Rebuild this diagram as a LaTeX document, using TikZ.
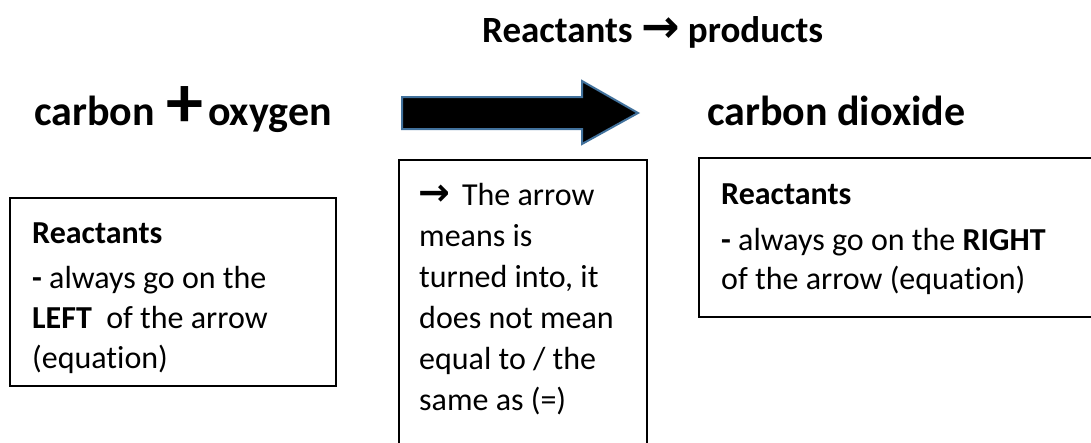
\documentclass[tikz,border=0pt]{standalone}
\usepackage{fontspec}
\setmainfont{Carlito}[Ligatures=NoCommon]
\newfontfamily\arw{DejaVu Sans}
\tikzset{
  txt/.style={inner sep=0pt, anchor=base west, font=\fontsize{32}{41}\selectfont},
  ttl/.style={inner sep=0pt, anchor=base west, font=\fontsize{42}{48}\selectfont\bfseries},
  hdr/.style={inner sep=0pt, anchor=base west, font=\fontsize{37}{44}\selectfont\bfseries},
  infobox/.style={draw=black, line width=1.5pt},
  bigarrow/.style={fill=black, draw=arrowblue, line width=2pt, line join=miter}
}
\definecolor{arrowblue}{HTML}{41719C}
\begin{document}
\begin{tikzpicture}[x=1pt,y=-1pt]
\useasboundingbox (0,0) rectangle (1091,442);
% header
\node[hdr] (head) at (482,42) {Reactants {\arw\fontsize{46}{44}\selectfont\bfseries →} products};
% titles
\node[ttl] (carbon) at (34,125) {carbon};
\node[inner sep=0pt, font=\fontsize{74}{80}\selectfont\bfseries] (plus) at (185,107) {+};
\node[ttl] (oxygen) at (208,125) {oxygen};
\node[ttl] (co2) at (707,125) {carbon dioxide};
% big arrow
\coordinate (aL1) at (402,97);
\coordinate (aB1) at (582,97);
\coordinate (aH1) at (582,81);
\coordinate (aT) at (638,113);
\coordinate (aH2) at (582,144);
\coordinate (aB2) at (582,129);
\coordinate (aL2) at (402,129);
\draw[bigarrow] (aL1) -- (aB1) -- (aH1) -- (aT) -- (aH2) -- (aB2) -- (aL2) -- cycle;
% boxes
\coordinate (lb1) at (10,198); \coordinate (lb2) at (336,386);
\coordinate (mb1) at (399,160); \coordinate (mb2) at (647,460);
\coordinate (rb1) at (699,158); \coordinate (rb2) at (1110,317);
\draw[infobox] (lb1) rectangle (lb2);
\draw[infobox] (mb1) rectangle (mb2);
\draw[infobox] (rb1) rectangle (rb2);
% left box text
\node[txt] (l1) at (32,243) {\textbf{Reactants}};
\node[txt] (l2) at (32,288) {\textbf{-} always go on the};
\node[txt] (l3) at (32,328) {\textbf{LEFT}\ \ of the arrow};
\node[txt] (l4) at (32,368) {(equation)};
% middle box text
\node[txt] (m1) at (418,205) {{\arw\fontsize{38}{41}\selectfont\bfseries →}\hspace{12pt}The arrow};
\node[txt] (m2) at (419,246) {means is};
\node[txt] (m3) at (419,287) {turned into, it};
\node[txt] (m4) at (419,328) {does not mean};
\node[txt] (m5) at (419,369) {equal to / the};
\node[txt] (m6) at (419,410) {same as (=)};
% right box text
\node[txt] (r1) at (721,204) {\textbf{Reactants}};
\node[txt] (r2) at (721,250) {\textbf{-} always go on the \textbf{RIGHT}};
\node[txt] (r3) at (721,289) {of the arrow (equation)};
\end{tikzpicture}
\end{document}
